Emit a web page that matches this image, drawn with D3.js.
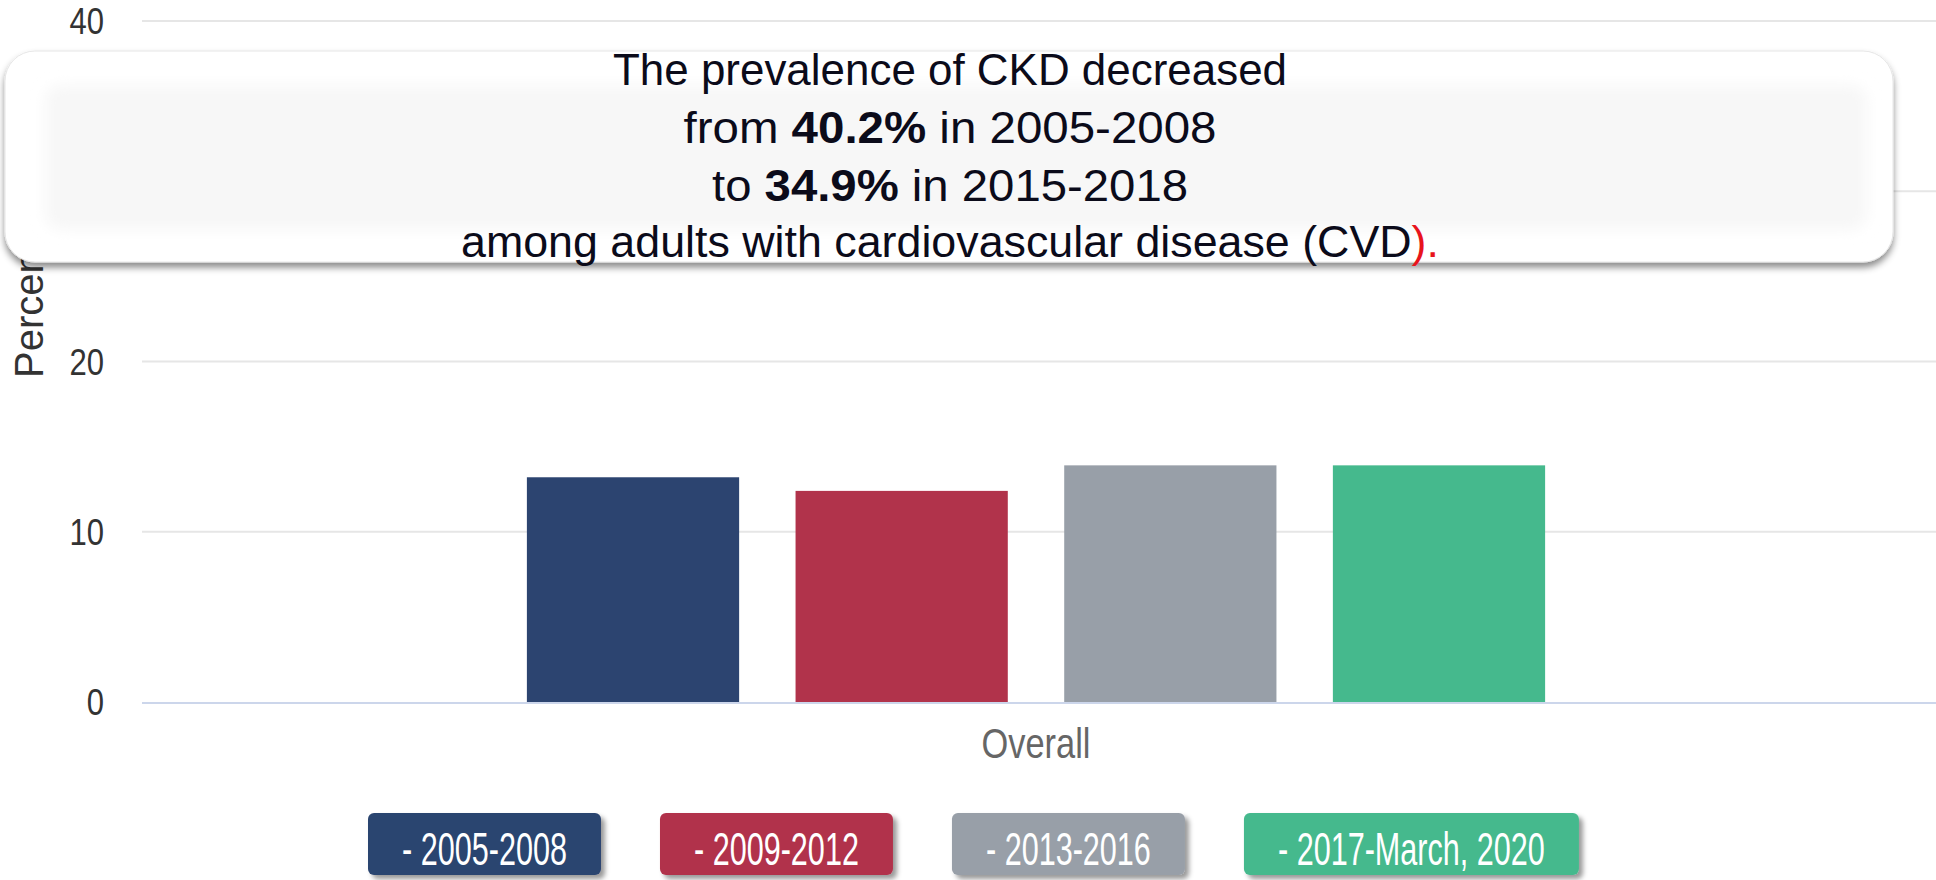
<!DOCTYPE html>
<html>
<head>
<meta charset="utf-8">
<script src="https://cdn.jsdelivr.net/npm/d3@7/dist/d3.min.js"></script>
<style>
  html, body { margin: 0; padding: 0; background: #ffffff; }
  svg { display: block; }
  text { font-family: "Liberation Sans", Arial, sans-serif; }
</style>
</head>
<body>
<svg id="chart" width="1936" height="880"></svg>
<script>
// ---- data ----
const categories = ["Overall"];
const periods = ["2005-2008", "2009-2012", "2013-2016", "2017-March, 2020"];
const values = [13.2, 12.4, 13.9, 13.9];
const yTicks = [0, 10, 20, 30, 40];
const yTitle = "Percent";
const legendLabels = periods.map(p => "- " + p);
const palette = ["#2c4470", "#b1334b", "#989fa8", "#45b98d"];

// callout text: each line is a list of [text, bold, red] runs
const calloutLines = [
  [["The prevalence of CKD decreased", false, false]],
  [["from ", false, false], ["40.2%", true, false], [" in 2005-2008", false, false]],
  [["to ", false, false], ["34.9%", true, false], [" in 2015-2018", false, false]],
  [["among adults with cardiovascular disease (CVD", false, false], [").", false, true]]
];

// ---- layout ----
const W = 1936, H = 880;
const plot = { left: 142, right: 1930, top: 21, bottom: 702 };

const svg = d3.select("#chart");
const defs = svg.append("defs");

const boxShadow = defs.append("filter").attr("id", "boxShadow")
  .attr("x", "-5%").attr("y", "-20%").attr("width", "110%").attr("height", "150%");
boxShadow.append("feDropShadow").attr("dx", 0).attr("dy", 5).attr("stdDeviation", 3.5)
  .attr("flood-color", "#000").attr("flood-opacity", 0.45);

const legShadow = defs.append("filter").attr("id", "legShadow")
  .attr("x", "-10%").attr("y", "-20%").attr("width", "125%").attr("height", "160%");
legShadow.append("feDropShadow").attr("dx", 4).attr("dy", 4).attr("stdDeviation", 2.5)
  .attr("flood-color", "#000").attr("flood-opacity", 0.4);

const softBlur = defs.append("filter").attr("id", "softBlur")
  .attr("x", "-10%").attr("y", "-30%").attr("width", "120%").attr("height", "160%");
softBlur.append("feGaussianBlur").attr("stdDeviation", 7);

// ---- scales ----
const y = d3.scaleLinear().domain([0, 40]).range([plot.bottom, plot.top]);
const x0 = d3.scaleBand().domain(categories).range([plot.left, plot.right])
  .paddingInner(0).paddingOuter(0.378);
const x1 = d3.scaleBand().domain(periods).range([0, x0.bandwidth()])
  .paddingInner(0.21).paddingOuter(0);
const color = d3.scaleOrdinal().domain(periods).range(palette);

// ---- grid ----
svg.append("g").selectAll("line").data(yTicks.filter(t => t !== 0)).join("line")
  .attr("x1", plot.left).attr("x2", W)
  .attr("y1", d => y(d)).attr("y2", d => y(d))
  .attr("stroke", "#e6e6e6").attr("stroke-width", 2);

// ---- y axis labels ----
const yAxis = d3.axisLeft(y).tickValues(yTicks).tickSize(0).tickPadding(0);
const yg = svg.append("g").attr("transform", "translate(104,0)").call(yAxis);
yg.select(".domain").remove();
yg.selectAll(".tick text")
  .attr("x", 0).attr("dy", null)
  .attr("font-size", 37).attr("fill", "#333").attr("text-anchor", "end")
  .attr("dominant-baseline", "central")
  .attr("transform", "scale(0.84,1)");

svg.append("text")
  .attr("transform", "translate(43,378) rotate(-90)")
  .attr("font-size", 40).attr("fill", "#333")
  .text(yTitle);

// ---- bars ----
const groups = svg.append("g").selectAll("g").data(categories).join("g")
  .attr("transform", d => `translate(${x0(d)},0)`);
groups.selectAll("rect")
  .data(() => periods.map((p, i) => ({ p, v: values[i] })))
  .join("rect")
  .attr("x", d => x1(d.p))
  .attr("y", d => y(d.v))
  .attr("width", x1.bandwidth())
  .attr("height", d => y(0) - y(d.v))
  .attr("fill", d => color(d.p));

// baseline
svg.append("line")
  .attr("x1", plot.left).attr("x2", W)
  .attr("y1", y(0) + 1).attr("y2", y(0) + 1)
  .attr("stroke", "#ccd6eb").attr("stroke-width", 2);

// ---- x axis label ----
const xAxis = d3.axisBottom(x0).tickSize(0).tickPadding(0);
const xg = svg.append("g").attr("transform", `translate(0,${y(0)})`).call(xAxis);
xg.select(".domain").remove();
xg.selectAll(".tick text")
  .attr("y", 56).attr("dy", null)
  .attr("font-size", 42).attr("fill", "#666")
  .attr("textLength", 109).attr("lengthAdjust", "spacingAndGlyphs");

// ---- legend ----
const legend = svg.append("g");
const legPad = 34, legGap = 59, legX0 = 368, legY = 813, legH = 62;
const legScale = 0.665;
let cursor = legX0;
legendLabels.forEach((lab, i) => {
  const g = legend.append("g");
  const t = g.append("text")
    .attr("font-size", 46).attr("fill", "#fff")
    .text(lab);
  const w = t.node().getComputedTextLength() * legScale;
  const bw = w + 2 * legPad;
  g.insert("rect", "text")
    .attr("x", cursor).attr("y", legY)
    .attr("width", bw).attr("height", legH)
    .attr("rx", 6).attr("ry", 6)
    .attr("fill", palette[i])
    .attr("filter", "url(#legShadow)");
  t.attr("transform", `translate(${cursor + legPad},${legY + 52}) scale(${legScale},1)`);
  cursor += bw + legGap;
});

// ---- callout box ----
const box = { x: 5, y: 51, w: 1888, h: 211, r: 30 };
const cb = svg.append("g");
cb.append("rect")
  .attr("x", box.x).attr("y", box.y).attr("width", box.w).attr("height", box.h)
  .attr("rx", box.r).attr("ry", box.r)
  .attr("fill", "#ffffff").attr("stroke", "#e6e6e6").attr("stroke-width", 1)
  .attr("filter", "url(#boxShadow)");
cb.append("rect")
  .attr("x", box.x + 40).attr("y", box.y + 34).attr("width", box.w - 66).attr("height", box.h - 66)
  .attr("rx", 16)
  .attr("fill", "#f7f7f7")
  .attr("filter", "url(#softBlur)");

const lineBase = [85, 143, 201, 257];
const lineWidth = [674, 533, 476, 978];
calloutLines.forEach((runs, i) => {
  const t = cb.append("text")
    .attr("x", 950).attr("y", lineBase[i])
    .attr("text-anchor", "middle")
    .attr("font-size", 44).attr("fill", "#0b0b1a")
    .attr("textLength", lineWidth[i]).attr("lengthAdjust", "spacingAndGlyphs");
  runs.forEach(([s, bold, red]) => {
    t.append("tspan")
      .attr("font-weight", bold ? "bold" : "normal")
      .attr("fill", red ? "#e8141c" : null)
      .text(s);
  });
});
</script>
</body>
</html>
